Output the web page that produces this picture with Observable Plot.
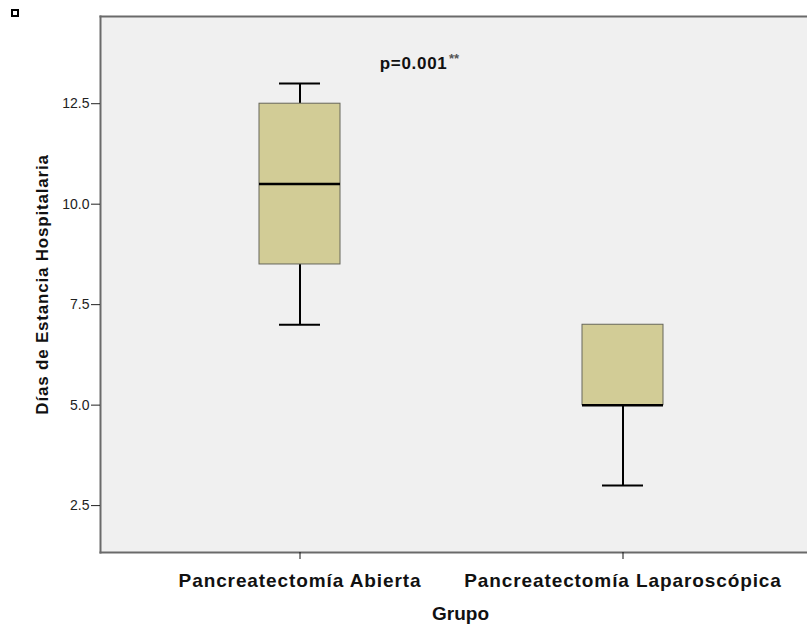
<!DOCTYPE html>
<html>
<head>
<meta charset="utf-8">
<script src="https://cdn.jsdelivr.net/npm/d3@7"></script>
<script src="https://cdn.jsdelivr.net/npm/@observablehq/plot@0.6"></script>
<style>
  html, body { margin: 0; padding: 0; background: #ffffff; overflow: hidden; }
  #chart { position: relative; width: 807px; height: 626px; }
  #marker { position: absolute; left: 11px; top: 9px; width: 4px; height: 4px; border: 2px solid #000; }
</style>
</head>
<body>
<div id="chart"><div id="marker"></div></div>
<script>
// ---- data ----
const groups = ["Pancreatectomía Abierta", "Pancreatectomía Laparoscópica"];
const minVals = [7, 3];
const q1Vals = [8.5, 5];
const medianVals = [10.5, 5];
const q3Vals = [12.5, 7];
const maxVals = [13, 7];
const yTicks = [2.5, 5.0, 7.5, 10.0, 12.5];
const yLabel = "Días de Estancia Hospitalaria";
const xLabel = "Grupo";
const pLabel = "p=0.001";
const pStars = "**";

const rows = groups.map((g, i) => ({
  group: g, min: minVals[i], q1: q1Vals[i], median: medianVals[i], q3: q3Vals[i], max: maxVals[i]
}));

const gridStroke = "#6a6a6a";

const chart = Plot.plot({
  width: 807,
  height: 626,
  marginLeft: 100,
  marginRight: 0,
  marginTop: 16,
  marginBottom: 74,
  style: { fontFamily: "'Liberation Sans', Arial, sans-serif", background: "#ffffff", color: "#222" },
  x: { type: "band", domain: groups, range: [100, 821], paddingInner: 0.75, paddingOuter: 0.4877 },
  y: { domain: [1.333, 14.67] },
  marks: [
    Plot.frame({ fill: "#f0f0f0", stroke: "none" }),
    Plot.ruleX(rows.filter(d => d.max > d.q3), { x: "group", y1: "q3", y2: "max", stroke: "#000", strokeWidth: 2 }),
    Plot.ruleX(rows.filter(d => d.min < d.q1), { x: "group", y1: "min", y2: "q1", stroke: "#000", strokeWidth: 2 }),
    Plot.barY(rows, { x: "group", y1: "q1", y2: "q3", fill: "#d2cc96", stroke: "#66665a", strokeWidth: 1 }),
    Plot.tickY(rows, { x: "group", y: "median", stroke: "#000", strokeWidth: 2.5 }),
    Plot.tickY(rows.filter(d => d.max > d.q3), { x: "group", y: "max", stroke: "#000", strokeWidth: 2, insetLeft: 20, insetRight: 20 }),
    Plot.tickY(rows.filter(d => d.min < d.q1), { x: "group", y: "min", stroke: "#000", strokeWidth: 2, insetLeft: 20, insetRight: 20 }),
    Plot.frame({ anchor: "top", stroke: gridStroke, strokeWidth: 2 }),
    Plot.frame({ anchor: "left", stroke: gridStroke, strokeWidth: 2 }),
    Plot.frame({ anchor: "bottom", stroke: gridStroke, strokeWidth: 2 }),
    Plot.axisY({ ticks: yTicks, tickFormat: d3.format(".1f"), tickSize: 9, tickPadding: 2, fontSize: 14, label: null, color: "#222" }),
    Plot.axisX({ tickSize: 7, tickPadding: 14, fontSize: 19, fontWeight: "bold", label: null, color: "#111" }),
    Plot.text([yLabel], { frameAnchor: "left", textAnchor: "middle", rotate: -90, dx: -58, fontSize: 17, fontWeight: "bold", fill: "#111" }),
    Plot.text([xLabel], { frameAnchor: "bottom", textAnchor: "middle", dx: 6.5, dy: 67, fontSize: 19, fontWeight: "bold", fill: "#111" }),
    Plot.text([pLabel], { frameAnchor: "top", dx: -6.5, dy: 40, textAnchor: "end", fontSize: 17, fontWeight: "bold", fill: "#111" }),
    Plot.text([pStars], { frameAnchor: "top", dx: -5, dy: 37, textAnchor: "start", fontSize: 13, fontWeight: "bold", fill: "#555" })
  ]
});

// letter spacing to mimic the wider rendering of the original
d3.select(chart).selectAll("text").each(function () {
  const t = this.textContent;
  if (groups.includes(t)) this.style.letterSpacing = "0.9px";
  else if (t === yLabel) this.style.letterSpacing = "0.8px";
  else if (t === pLabel) this.style.letterSpacing = "0.7px";
});

document.getElementById("chart").appendChild(chart);
</script>
</body>
</html>
